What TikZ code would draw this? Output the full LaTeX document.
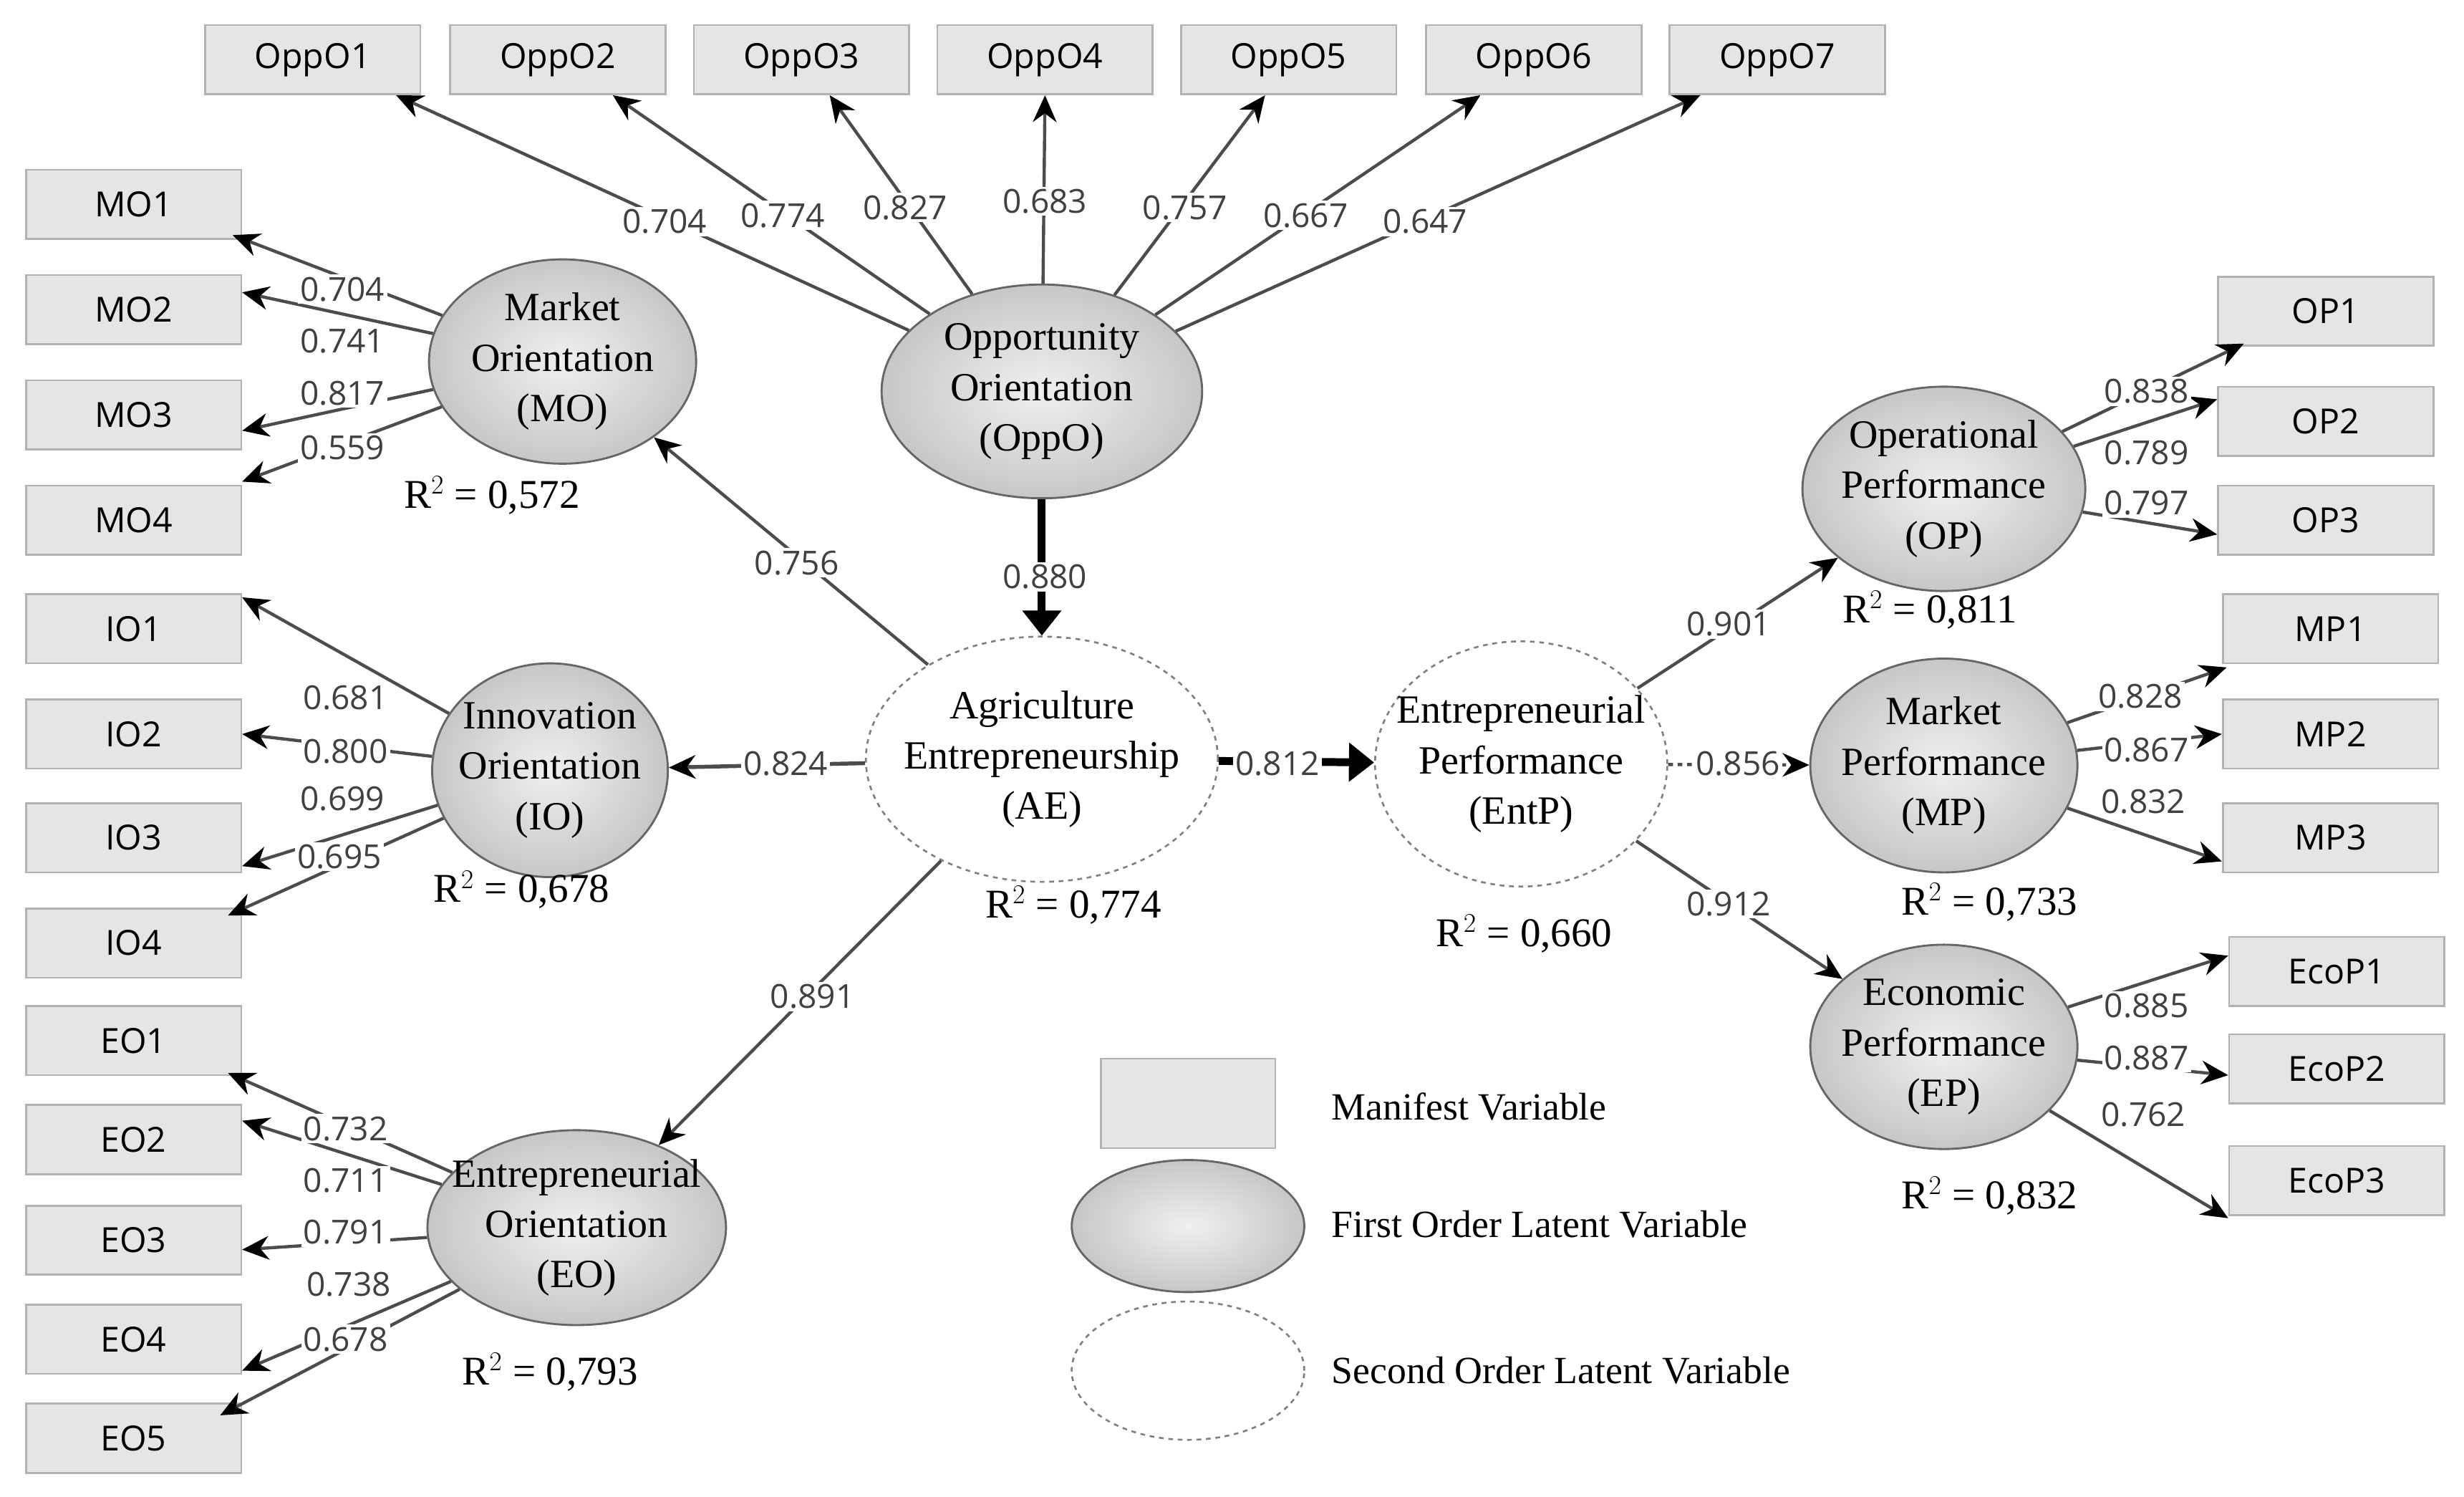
\documentclass[tikz,border=0pt]{standalone}
\usepackage{fontspec}
\setmainfont{Liberation Serif}
\newfontfamily\lbl{Open Sans}
\usetikzlibrary{arrows.meta,shapes.geometric}
\begin{document}
\begin{tikzpicture}[x=1pt,y=-1pt,
 box/.style={draw=black!30,fill=black!10,line width=1.2pt,minimum width=137pt,minimum height=44pt,inner sep=0pt,font=\lbl\fontsize{22}{24}\selectfont},
 lat/.style={ellipse,draw=black!60,line width=1.3pt,inner color=black!6,outer color=black!22,inner sep=-40pt,align=center,font=\fontsize{25.5}{32}\selectfont},
 sec/.style={ellipse,draw=black!50,dashed,line width=1.2pt,fill=white,inner sep=-40pt,align=center,font=\fontsize{25.5}{32}\selectfont},
 ld/.style={fill=white,inner sep=1.5pt,text=black!75,font=\lbl\fontsize{21}{22}\selectfont},
 ln/.style={draw=black!70,line width=2pt,-{Stealth[length=17pt,width=15pt,black]}},
 thk/.style={draw=black,line width=5pt,-{Triangle[length=16pt,width=24pt]}},
 r2/.style={font=\fontsize{26}{28}\selectfont}]
\useasboundingbox (0,0) rectangle (1568,952);
% boxes
\foreach \n/\x in {1/199,2/355,3/510,4/665,5/820,6/976,7/1131}
  \node[box] (o\n) at (\x,38) {OppO\n};
\foreach \n/\y in {1/130,2/197,3/264,4/331} \node[box] (mo\n) at (85,\y) {MO\n};
\foreach \n/\y in {1/400,2/467,3/533,4/600} \node[box] (io\n) at (85,\y) {IO\n};
\foreach \n/\y in {1/662,2/725,3/789,4/852,5/915} \node[box] (eo\n) at (85,\y) {EO\n};
\foreach \n/\y in {1/198,2/268,3/331} \node[box] (op\n) at (1480,\y) {OP\n};
\foreach \n/\y in {1/400,2/467,3/533} \node[box] (mp\n) at (1483,\y) {MP\n};
\foreach \n/\y in {1/618,2/680,3/751} \node[box] (ecop\n) at (1487,\y) {EcoP\n};
% latents
\node[lat,minimum width=170pt,minimum height=130pt] (MO) at (358,230) {Market\\Orientation\\(MO)};
\node[lat,minimum width=150pt,minimum height=136pt] (IO) at (350,490) {Innovation\\Orientation\\(IO)};
\node[lat,minimum width=190pt,minimum height=124pt] (EO) at (367,781) {Entrepreneurial\\Orientation\\(EO)};
\node[lat,minimum width=204pt,minimum height=136pt] (OPPO) at (663,249) {Opportunity\\Orientation\\(OppO)};
\node[sec,minimum width=224pt,minimum height=156pt] (AE) at (663,483) {Agriculture\\Entrepreneurship\\(AE)};
\node[sec,minimum width=186pt,minimum height=156pt] (ENTP) at (968,486) {Entrepreneurial\\Performance\\(EntP)};
\node[lat,minimum width=180pt,minimum height=130pt] (OP) at (1237,311) {Operational\\Performance\\(OP)};
\node[lat,minimum width=170pt,minimum height=136pt] (MP) at (1237,487) {Market\\Performance\\(MP)};
\node[lat,minimum width=170pt,minimum height=130pt] (EP) at (1237,666) {Economic\\Performance\\(EP)};
% OppO loadings
\draw[ln] (OPPO) -- ([xshift=-16pt]o1.south east);
\draw[ln] (OPPO) -- ([xshift=35pt]o2.south);
\draw[ln] (OPPO) -- ([xshift=18pt]o3.south);
\draw[ln] (OPPO) -- (o4.south);
\draw[ln] (OPPO) -- ([xshift=-15pt]o5.south);
\draw[ln] (OPPO) -- ([xshift=-34pt]o6.south);
\draw[ln] (OPPO) -- ([xshift=-49pt]o7.south);
% MO
\draw[ln] (MO) -- ([xshift=-6pt,yshift=3pt]mo1.south east);
\draw[ln] (MO) -- ([yshift=11pt]mo2.east);
\draw[ln] (MO) -- ([yshift=-10pt]mo3.east);
\draw[ln] (MO) -- ([yshift=2pt]mo4.north east);
% IO
\draw[ln] (IO) -- ([yshift=20pt]io1.east);
\draw[ln] (IO) -- (io2.east);
\draw[ln] (IO) -- ([yshift=-18pt]io3.east);
\draw[ln] (IO) -- ([xshift=-9pt,yshift=-5pt]io4.north east);
% EO
\draw[ln] (EO) -- ([xshift=-9pt,yshift=2pt]eo1.south east);
\draw[ln] (EO) -- ([yshift=12pt]eo2.east);
\draw[ln] (EO) -- ([yshift=-6pt]eo3.east);
\draw[ln] (EO) -- ([yshift=-20pt]eo4.east);
\draw[ln] (EO) -- ([xshift=-14pt,yshift=-8pt]eo5.north east);
% right
\draw[ln] (OP) -- ([xshift=17pt,yshift=2pt]op1.south west);
\draw[ln] (OP) -- ([yshift=14pt]op2.west);
\draw[ln] (OP) -- ([yshift=-9pt]op3.west);
\draw[ln] (MP) -- ([xshift=3pt,yshift=-2pt]mp1.south west);
\draw[ln] (MP) -- (mp2.west);
\draw[ln] (MP) -- ([yshift=-15pt]mp3.west);
\draw[ln] (EP) -- ([yshift=10pt]ecop1.west);
\draw[ln] (EP) -- ([yshift=-4pt]ecop2.west);
\draw[ln] (EP) -- ([yshift=-24pt]ecop3.west);
% structural
\draw[thk] (OPPO) -- (AE);
\draw[ln] (AE) -- (MO);
\draw[ln,line width=2.5pt] (AE) -- (IO);
\draw[ln] (AE) -- (EO);
\draw[thk] (AE) -- (ENTP);
\draw[ln] (ENTP) -- (OP);
\draw[ln,dashed] (ENTP) -- (MP);
\draw[ln] (ENTP) -- (EP);
% loading labels
\foreach \t/\x/\y in {0.704/423/141,0.774/498/137,0.827/576/132,0.683/665/128,0.757/754/132,0.667/831/137,0.647/907/141,
 0.704/218/184,0.741/218/217,0.817/218/250,0.559/218/285,
 0.681/220/444,0.800/220/478,0.699/218/508,0.695/216/545,
 0.732/220/718,0.711/220/751,0.791/220/784,0.738/222/817,0.678/220/852,
 0.838/1366/249,0.789/1366/288,0.797/1366/320,0.828/1362/443,0.867/1366/477,0.832/1364/510,
 0.885/1366/640,0.887/1366/673,0.762/1364/709,
 0.756/507/358,0.824/500/486,0.891/517/634,0.880/665/367,0.812/813/486,0.901/1100/397,0.856/1106/486,0.912/1100/575}
 \node[ld] at (\x,\y) {\t};
% R2
\node[r2] (rmo) at (313,315) {R$^{2}$ = 0,572};
\node[r2] (rio) at (332,566) {R$^{2}$ = 0,678};
\node[r2] (reo) at (350,873) {R$^{2}$ = 0,793};
\node[r2] (rae) at (683,576) {R$^{2}$ = 0,774};
\node[r2] (rent) at (970,594) {R$^{2}$ = 0,660};
\node[r2] (rop) at (1228,388) {R$^{2}$ = 0,811};
\node[r2] (rmp) at (1266,574) {R$^{2}$ = 0,733};
\node[r2] (rep) at (1266,761) {R$^{2}$ = 0,832};
% legend
\node[box,minimum width=111pt,minimum height=57pt] (lg1) at (756,702) {};
\node[lat,minimum width=148pt,minimum height=84pt] (lg2) at (756,780) {};
\node[sec,minimum width=148pt,minimum height=88pt] (lg3) at (756,872) {};
\node[anchor=west,font=\fontsize{24.5}{26}\selectfont] (t1) at (844,704) {Manifest Variable};
\node[anchor=west,font=\fontsize{24.5}{26}\selectfont] (t2) at (844,779) {First Order Latent Variable};
\node[anchor=west,font=\fontsize{24.5}{26}\selectfont] (t3) at (844,872) {Second Order Latent Variable};
\end{tikzpicture}
\end{document}
